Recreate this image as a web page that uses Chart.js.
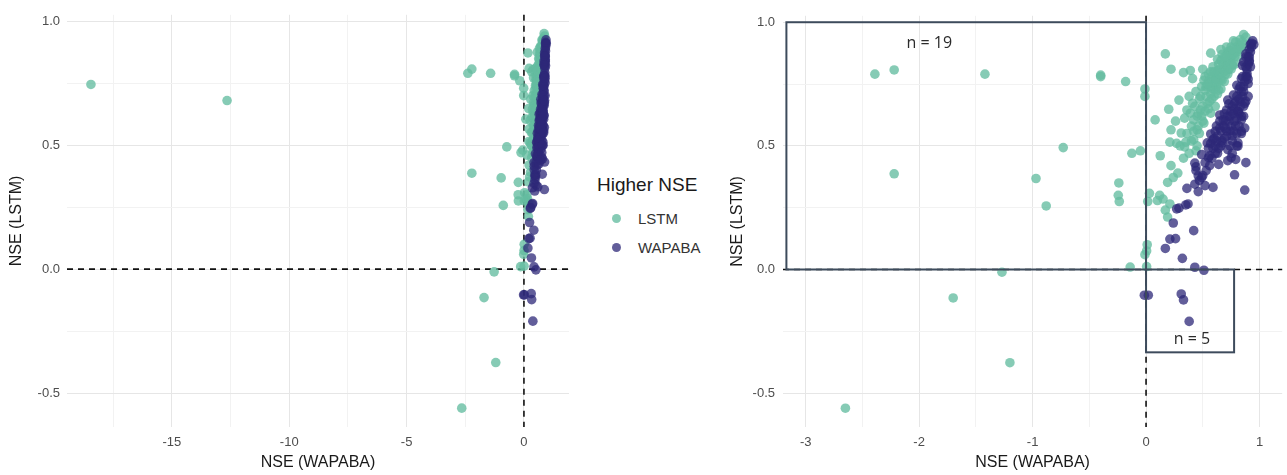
<!DOCTYPE html>
<html>
<head>
<meta charset="utf-8">
<script src="https://cdn.jsdelivr.net/npm/chart.js@4.4.1/dist/chart.umd.min.js"></script>
<style>
    body { margin: 0; background: #fff; width: 1287px; height: 475px; position: relative; overflow: hidden; font-family: "Liberation Sans", Arial, sans-serif; }
    canvas { position: absolute; top: 0; }
    #left-chart { left: 0; }
    #right-chart { left: 720px; }
    .legend-title { position: absolute; left: 597px; top: 174px; font-size: 19px; color: #1a1a1a; white-space: nowrap; }
    .legend-item { position: absolute; left: 612px; font-size: 15px; color: #333; white-space: nowrap; line-height: 16px; }
    .legend-item .dot { display: inline-block; width: 9px; height: 9px; border-radius: 50%; margin-right: 17px; vertical-align: 1px; }
</style>
</head>
<body>
<canvas id="left-chart" width="575" height="475"></canvas>
<canvas id="right-chart" width="567" height="475"></canvas>

<div class="legend-title">Higher NSE</div>
<div class="legend-item" style="top:211px"><span class="dot" id="dot-lstm"></span>LSTM</div>
<div class="legend-item" style="top:240px"><span class="dot" id="dot-wapaba"></span>WAPABA</div>

<script>
// ----------------- Data (x = NSE of WAPABA, y = NSE of LSTM) -----------------
const lstmHigherWapaba = [
    -18.45, -12.65, -2.65, -2.39, -2.22, -2.22, -1.70, -1.42, -1.27, -1.20,
    -0.97, -0.88, -0.73, -0.40, -0.40, -0.245, -0.24, -0.236, -0.18, -0.14,
    -0.125, -0.05, -0.01, -0.01, -0.01, 0.005, 0.005, 0.01, 0.015, 0.03,
    0.08, 0.10, 0.12, 0.125, 0.15, 0.17, 0.17, 0.19, 0.19, 0.20,
    0.21, 0.21, 0.22, 0.22, 0.22, 0.24, 0.26, 0.27, 0.28, 0.29,
    0.30, 0.31, 0.33, 0.33, 0.34, 0.34, 0.35, 0.36, 0.36, 0.38,
    0.38, 0.39, 0.39, 0.40, 0.40, 0.41, 0.41, 0.42, 0.42, 0.42,
    0.43, 0.44, 0.44, 0.45, 0.45, 0.45, 0.46, 0.47, 0.47, 0.48,
    0.48, 0.49, 0.50, 0.50, 0.50, 0.51, 0.51, 0.52, 0.52, 0.53,
    0.54, 0.55, 0.55, 0.56, 0.57, 0.57, 0.57, 0.58, 0.58, 0.59,
    0.60, 0.60, 0.60, 0.61, 0.61, 0.62, 0.62, 0.63, 0.63, 0.64,
    0.64, 0.65, 0.66, 0.66, 0.66, 0.67, 0.67, 0.68, 0.69, 0.70,
    0.70, 0.71, 0.72, 0.72, 0.73, 0.74, 0.74, 0.75, 0.75, 0.76,
    0.76, 0.77, 0.78, 0.78, 0.79, 0.80, 0.81, 0.82, 0.83, 0.84,
    0.85, 0.86, 0.88,
    0.53, 0.56, 0.59, 0.62, 0.65, 0.68, 0.71, 0.74, 0.77, 0.80,
    0.83, 0.86, 0.69, 0.73, 0.76, 0.71, 0.64, 0.60, 0.57, 0.54,
    0.66, 0.69, 0.72, 0.75, 0.78, 0.81, 0.63, 0.58, 0.55, 0.52,
    0.49, 0.46
];
const lstmHigherLstm = [
    0.745, 0.68, -0.561, 0.79, 0.807, 0.387, -0.115, 0.79, -0.011, -0.377,
    0.368, 0.257, 0.493, 0.786, 0.78, 0.30, 0.35, 0.275, 0.76, 0.01,
    0.47, 0.48, 0.73, 0.70, 0.06, 0.075, 0.012, 0.10, 0.275, 0.308,
    0.605, 0.279, 0.30, 0.46, 0.285, 0.872, 0.24, 0.352, 0.212, 0.648,
    0.515, 0.265, 0.81, 0.565, 0.42, 0.372, 0.60, 0.51, 0.39, 0.685,
    0.50, 0.552, 0.796, 0.45, 0.496, 0.612, 0.515, 0.645, 0.55, 0.70,
    0.47, 0.805, 0.632, 0.58, 0.52, 0.772, 0.672, 0.605, 0.559, 0.525,
    0.66, 0.72, 0.48, 0.565, 0.62, 0.50, 0.63, 0.69, 0.55, 0.70,
    0.645, 0.74, 0.81, 0.66, 0.60, 0.765, 0.592, 0.725, 0.78, 0.70,
    0.672, 0.79, 0.76, 0.68, 0.875, 0.632, 0.71, 0.78, 0.732, 0.82,
    0.75, 0.70, 0.73, 0.772, 0.66, 0.79, 0.74, 0.805, 0.85, 0.725,
    0.76, 0.81, 0.89, 0.845, 0.77, 0.765, 0.87, 0.83, 0.80, 0.859,
    0.79, 0.82, 0.84, 0.88, 0.81, 0.885, 0.84, 0.86, 0.90, 0.825,
    0.83, 0.925, 0.88, 0.86, 0.92, 0.90, 0.89, 0.91, 0.93, 0.90,
    0.92, 0.95, 0.94,
    0.74, 0.74, 0.76, 0.77, 0.79, 0.81, 0.83, 0.86, 0.87, 0.88,
    0.89, 0.91, 0.86, 0.87, 0.89, 0.90, 0.83, 0.80, 0.80, 0.75,
    0.73, 0.76, 0.79, 0.81, 0.83, 0.86, 0.71, 0.69, 0.65, 0.64,
    0.62, 0.58
];
const wapabaHigherWapaba = [
    -0.015, 0.02, 0.17, 0.21, 0.24, 0.26, 0.27, 0.29, 0.31, 0.32,
    0.33, 0.35, 0.36, 0.37, 0.38, 0.42, 0.43, 0.43, 0.43, 0.44,
    0.44, 0.46, 0.46, 0.47, 0.49, 0.49, 0.50, 0.51, 0.52, 0.52,
    0.53, 0.54, 0.55, 0.55, 0.56, 0.57, 0.57, 0.58, 0.59, 0.59,
    0.60, 0.61, 0.61, 0.61, 0.62, 0.63, 0.64, 0.64, 0.65, 0.65,
    0.65, 0.66, 0.67, 0.67, 0.68, 0.68, 0.69, 0.70, 0.71, 0.71,
    0.71, 0.72, 0.72, 0.72, 0.73, 0.74, 0.74, 0.75, 0.75, 0.75,
    0.76, 0.76, 0.77, 0.77, 0.78, 0.78, 0.78, 0.79, 0.79, 0.80,
    0.80, 0.81, 0.81, 0.81, 0.81, 0.82, 0.82, 0.83, 0.84, 0.84,
    0.84, 0.84, 0.84, 0.85, 0.86, 0.86, 0.87, 0.87, 0.87, 0.88,
    0.88, 0.88, 0.89, 0.89, 0.90, 0.90, 0.90, 0.91, 0.91, 0.91,
    0.92, 0.93, 0.93, 0.94, 0.95,
    0.92, 0.91, 0.90, 0.89, 0.88, 0.87, 0.86, 0.85, 0.83, 0.82,
    0.80, 0.79, 0.77, 0.76, 0.74, 0.73, 0.70, 0.69, 0.66, 0.63,
    0.62, 0.59, 0.56, 0.82, 0.85, 0.86, 0.88, 0.80, 0.78, 0.83,
    0.92, 0.90, 0.88, 0.86, 0.84, 0.80, 0.76, 0.72
];
const wapabaHigherLstm = [
    -0.104, -0.104, 0.085, 0.123, 0.188, 0.125, 0.245, 0.248, -0.099, 0.045,
    -0.123, 0.261, 0.328, 0.265, -0.21, 0.157, 0.009, 0.345, 0.43, 0.40,
    0.415, 0.379, 0.315, 0.36, 0.465, 0.372, 0.38, -0.003, 0.432, 0.339,
    0.40, 0.512, 0.452, 0.49, 0.42, 0.548, 0.51, 0.45, 0.525, 0.332,
    0.53, 0.559, 0.499, 0.47, 0.58, 0.54, 0.425, 0.49, 0.625, 0.572,
    0.60, 0.56, 0.512, 0.52, 0.605, 0.58, 0.63, 0.60, 0.645, 0.539,
    0.56, 0.485, 0.685, 0.62, 0.67, 0.619, 0.50, 0.452, 0.64, 0.58,
    0.66, 0.54, 0.705, 0.63, 0.672, 0.60, 0.383, 0.445, 0.68, 0.745,
    0.55, 0.639, 0.512, 0.499, 0.64, 0.73, 0.58, 0.68, 0.772, 0.719,
    0.605, 0.559, 0.62, 0.825, 0.74, 0.66, 0.672, 0.572, 0.321, 0.872,
    0.432, 0.82, 0.792, 0.78, 0.752, 0.86, 0.70, 0.845, 0.84, 0.89,
    0.91, 0.90, 0.915, 0.925, 0.91,
    0.88, 0.86, 0.83, 0.81, 0.78, 0.76, 0.72, 0.70, 0.66, 0.63,
    0.61, 0.58, 0.56, 0.52, 0.56, 0.60, 0.57, 0.53, 0.50, 0.47,
    0.52, 0.49, 0.46, 0.69, 0.78, 0.84, 0.86, 0.70, 0.65, 0.74,
    0.82, 0.77, 0.68, 0.62, 0.55, 0.50, 0.47, 0.44
];

// ggplot-style ticks: labelled majors plus unlabelled minor grid lines
const yMajor = [-0.5, 0, 0.5, 1.0];
const yMinor = [-0.25, 0.25, 0.75];
const leftXMajor = [-15, -10, -5, 0];
const leftXMinor = [-17.5, -12.5, -7.5, -2.5];
const rightXMajor = [-3, -2, -1, 0, 1];
const rightXMinor = [-2.5, -1.5, -0.5, 0.5];

// count boxes and their labels on the zoomed panel (data units)
const countBoxes = [
    { x0: -3.17, x1: 0, y0: 0, y1: 1 },
    { x0: 0, x1: 0.776, y0: -0.335, y1: 0 }
];
const countLabels = [
    { x: -1.91, y: 0.915, text: 'n = 19' },
    { x: 0.405, y: -0.281, text: 'n = 5' }
];

const LSTM_COLOR = 'rgba(100, 188, 160, 0.78)';
const WAPABA_COLOR = 'rgba(45, 40, 120, 0.75)';
document.getElementById('dot-lstm').style.background = LSTM_COLOR;
document.getElementById('dot-wapaba').style.background = WAPABA_COLOR;

const toPoints = (xs, ys) => xs.map((x, i) => ({ x: x, y: ys[i] }));

function fixedTicks(major, minor) {
    return axis => {
        axis.ticks = major.concat(minor).sort((a, b) => a - b)
            .map(v => ({ value: v, isMajor: major.includes(v) }));
    };
}

// ----------------- Plugins -----------------
const zeroLines = {
    id: 'zeroLines',
    beforeDatasetsDraw(chart) {
        const { ctx, chartArea: a, scales: { x, y } } = chart;
        const px = x.getPixelForValue(0);
        const py = y.getPixelForValue(0);
        ctx.save();
        ctx.strokeStyle = '#111';
        ctx.lineWidth = 1.6;
        ctx.setLineDash([6, 5]);
        ctx.beginPath();
        ctx.moveTo(a.left, py); ctx.lineTo(a.right, py);
        ctx.moveTo(px, a.top); ctx.lineTo(px, a.bottom);
        ctx.stroke();
        ctx.restore();
    }
};

const countBoxPlugin = {
    id: 'countBoxes',
    afterDatasetsDraw(chart) {
        const { ctx, scales: { x, y } } = chart;
        ctx.save();
        ctx.strokeStyle = '#3d4b5c';
        ctx.lineWidth = 2;
        countBoxes.forEach(b => {
            const l = x.getPixelForValue(b.x0), r = x.getPixelForValue(b.x1);
            const t = y.getPixelForValue(b.y1), btm = y.getPixelForValue(b.y0);
            ctx.strokeRect(l, t, r - l, btm - t);
        });
        ctx.fillStyle = '#2b2b2b';
        ctx.font = '16px "Open Sans", sans-serif';
        ctx.textAlign = 'center';
        ctx.textBaseline = 'middle';
        countLabels.forEach(lb => {
            ctx.fillText(lb.text, x.getPixelForValue(lb.x), y.getPixelForValue(lb.y));
        });
        ctx.restore();
    }
};

// ----------------- Panels -----------------
function makePanel(canvasId, opts) {
    const gridColor = c => (c.tick && c.tick.isMajor ? '#e6e6e6' : '#f2f2f2');
    return new Chart(document.getElementById(canvasId), {
        type: 'scatter',
        data: {
            datasets: [
                {
                    label: 'LSTM',
                    data: toPoints(lstmHigherWapaba, lstmHigherLstm),
                    backgroundColor: LSTM_COLOR,
                    pointRadius: 4.8,
                    pointBorderWidth: 0,
                    order: 1
                },
                {
                    label: 'WAPABA',
                    data: toPoints(wapabaHigherWapaba, wapabaHigherLstm),
                    backgroundColor: WAPABA_COLOR,
                    pointRadius: 4.8,
                    pointBorderWidth: 0,
                    order: 0
                }
            ]
        },
        options: {
            responsive: false,
            animation: false,
            events: [],
            layout: { padding: { top: 12, right: opts.padRight, bottom: 0, left: 0 } },
            plugins: { legend: { display: false }, tooltip: { enabled: false } },
            scales: {
                x: {
                    type: 'linear',
                    min: opts.xMin,
                    max: opts.xMax,
                    afterBuildTicks: fixedTicks(opts.xMajor, opts.xMinor),
                    afterFit: s => { s.height = 48; },
                    border: { display: false },
                    grid: { color: gridColor, lineWidth: 1, drawTicks: false },
                    ticks: {
                        autoSkip: false,
                        maxRotation: 0,
                        padding: 8,
                        color: '#4d4d4d',
                        font: { family: '"Liberation Sans", Arial, sans-serif', size: 13 },
                        callback: (v, i, ticks) => (ticks[i].isMajor ? String(v) : '')
                    },
                    title: {
                        display: true,
                        text: 'NSE (WAPABA)',
                        color: '#1a1a1a',
                        padding: { top: 0, bottom: 3 },
                        font: { family: '"Liberation Sans", Arial, sans-serif', size: 16 }
                    }
                },
                y: {
                    type: 'linear',
                    min: -0.637,
                    max: 1.026,
                    afterBuildTicks: fixedTicks(yMajor, yMinor),
                    afterFit: s => { s.width = opts.yWidth; },
                    border: { display: false },
                    grid: { color: gridColor, lineWidth: 1, drawTicks: false },
                    ticks: {
                        autoSkip: false,
                        padding: opts.yTickPad,
                        color: '#4d4d4d',
                        font: { family: '"Liberation Sans", Arial, sans-serif', size: 13 },
                        callback: (v, i, ticks) => (ticks[i].isMajor ? v.toFixed(1) : '')
                    },
                    title: {
                        display: true,
                        text: 'NSE (LSTM)',
                        color: '#1a1a1a',
                        padding: { top: opts.yTitlePad, bottom: 0 },
                        font: { family: '"Liberation Sans", Arial, sans-serif', size: 16 }
                    }
                }
            }
        },
        plugins: opts.plugins
    });
}

makePanel('left-chart', {
    xMin: -19.47, xMax: 1.92,
    xMajor: leftXMajor, xMinor: leftXMinor,
    yWidth: 67, yTickPad: 7, yTitlePad: 7, padRight: 6,
    plugins: [zeroLines]
});

makePanel('right-chart', {
    xMin: -3.2, xMax: 1.2,
    xMajor: rightXMajor, xMinor: rightXMinor,
    yWidth: 63, yTickPad: 8, yTitlePad: 8, padRight: 0,
    plugins: [zeroLines, countBoxPlugin]
});
</script>
</body>
</html>
